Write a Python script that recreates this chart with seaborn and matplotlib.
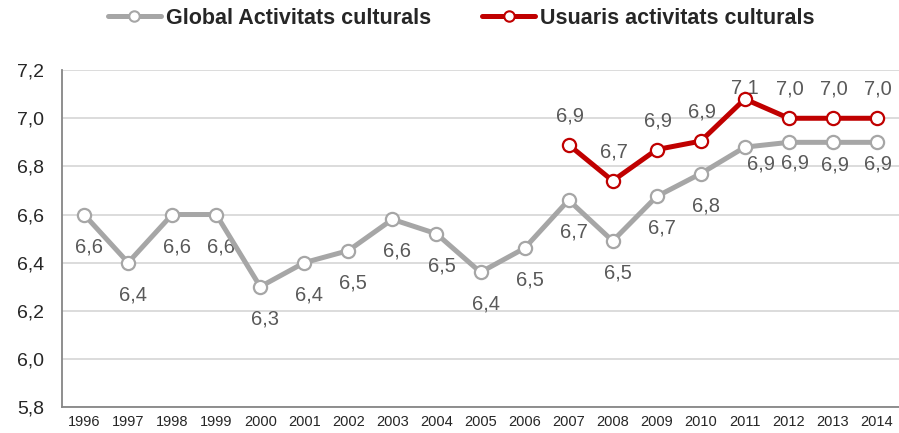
import pandas as pd
import matplotlib
matplotlib.use('Agg')
import matplotlib.pyplot as plt
import seaborn as sns

years = list(range(1996, 2015))
global_vals = [6.60, 6.40, 6.60, 6.60, 6.30, 6.40, 6.45, 6.58, 6.52, 6.36,
               6.46, 6.66, 6.49, 6.675, 6.77, 6.88, 6.90, 6.90, 6.90]
usuaris_years = list(range(2007, 2015))
usuaris_vals = [6.89, 6.74, 6.87, 6.905, 7.08, 7.00, 7.00, 7.00]

name_global = 'Global Activitats culturals'
name_usuaris = 'Usuaris activitats culturals'

# label offsets in pixels (dx, dy), picked to sit like the original
global_off = {2011: (16, -17), 2012: (6, -21), 2013: (2, -23), 2014: (1, -22)}
usuaris_off = {2011: (0, 11)}

sns.set_style('white')
plt.rcParams['font.family'] = ['Liberation Sans', 'DejaVu Sans']

df = pd.concat([
    pd.DataFrame({'year': years, 'value': global_vals, 'serie': name_global}),
    pd.DataFrame({'year': usuaris_years, 'value': usuaris_vals, 'serie': name_usuaris}),
])

fig = plt.figure(figsize=(8.99, 4.33), dpi=100)
ax = fig.add_axes([0.069, 0.06, 0.931, 0.778])

pal = {name_global: '#a6a6a6', name_usuaris: '#c00000'}
sns.lineplot(data=df, x='year', y='value', hue='serie', palette=pal, ax=ax,
             linewidth=3.6, marker='o', markersize=9.5, markerfacecolor='white',
             markeredgewidth=1.6, legend=False, zorder=3)
# markeredgecolor follows line colour
for line, c in zip(ax.lines, [pal[name_global], pal[name_usuaris]]):
    line.set_markeredgecolor(c)

def fmt(v):
    return f'{v:.1f}'.replace('.', ',')

for y, v in zip(years, global_vals):
    dx, dy = global_off.get(y, (5, -32))
    ax.annotate(fmt(v), (y, v), xytext=(dx * 0.72, dy * 0.72), textcoords='offset points',
                ha='center', va='center', fontsize=14.5, color='#595959', zorder=1)
for y, v in zip(usuaris_years, usuaris_vals):
    dx, dy = usuaris_off.get(y, (1, 29))
    ax.annotate(fmt(v), (y, v), xytext=(dx * 0.72, dy * 0.72), textcoords='offset points',
                ha='center', va='center', fontsize=14.5, color='#595959', zorder=1)

ax.set_xlim(1995.5, 2014.5)
ax.set_ylim(5.8, 7.2)
ax.set_xticks(years)
ax.set_xticklabels([str(y) for y in years], fontsize=10.5)
yt = [5.8 + 0.2 * i for i in range(8)]
ax.set_yticks(yt)
ax.set_yticklabels([fmt(t) for t in yt], fontsize=14)
ax.tick_params(axis='y', length=0, pad=13)
ax.tick_params(axis='x', length=0, pad=6)
ax.set_xlabel('')
ax.set_ylabel('')
ax.grid(axis='y', color='#d9d9d9', linewidth=1.3)
ax.set_axisbelow(True)
for s in ['top', 'right']:
    ax.spines[s].set_visible(False)
for s in ['left', 'bottom']:
    ax.spines[s].set_color('#868686')
    ax.spines[s].set_linewidth(1.3)

handles = [plt.Line2D([], [], color=pal[n], linewidth=3.6, marker='o', markersize=7.5,
                      markerfacecolor='white', markeredgecolor=pal[n], markeredgewidth=1.5)
           for n in [name_global, name_usuaris]]
fig.legend(handles, [name_global, name_usuaris], loc='center', bbox_to_anchor=(0.513, 0.958),
           ncol=2, frameon=False, handlelength=2.46, handletextpad=0.23, columnspacing=2.4,
           prop={'family': ['Liberation Sans Narrow', 'Liberation Sans'], 'weight': 'bold', 'size': 15.5})

fig.savefig('out.png', dpi=100)
